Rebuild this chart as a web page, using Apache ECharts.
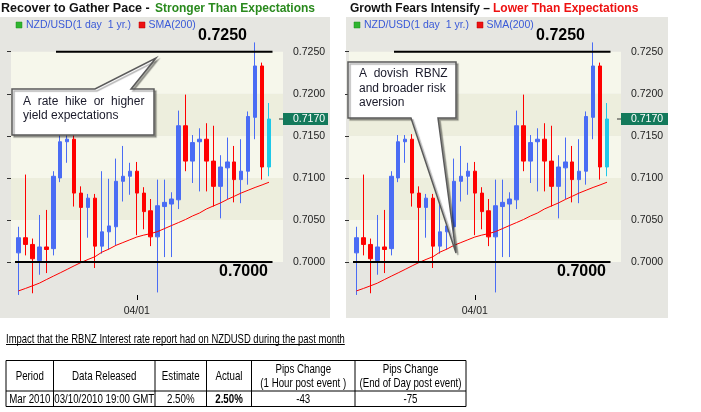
<!DOCTYPE html>
<html><head><meta charset="utf-8">
<script src="https://cdn.jsdelivr.net/npm/echarts@6/dist/echarts.min.js"></script>
<style>html,body{margin:0;padding:0;background:#fff}#c{width:701px;height:412px}</style>
</head><body><div id="c"></div>
<script>
// ---------------- data ----------------
const dates = ['03/09','03/10','03/11','03/12','03/15','03/16','03/17','03/18','03/19','03/22','03/23','03/24','03/25','03/26','03/29','03/30','03/31','04/01','04/02','04/05','04/06','04/07','04/08','04/09','04/12','04/13','04/14','04/15','04/16','04/19','04/20','04/21','04/22','04/23','04/26','04/27','04/28'];
const opens  = [0.7011,0.7029,0.7021,0.7002,0.7018,0.7016,0.7100,0.7143,0.7146,0.7082,0.7065,0.7076,0.7019,0.7036,0.7042,0.7096,0.7102,0.7108,0.7082,0.7061,0.7030,0.7066,0.7069,0.7074,0.7162,0.7120,0.7143,0.7146,0.7120,0.7090,0.7112,0.7119,0.7098,0.7108,0.7172,0.7233,0.7113];
const closes = [0.7029,0.7021,0.7004,0.7018,0.7015,0.7102,0.7143,0.7146,0.7082,0.7065,0.7076,0.7019,0.7036,0.7043,0.7096,0.7102,0.7108,0.7082,0.7060,0.7030,0.7067,0.7071,0.7075,0.7162,0.7120,0.7142,0.7146,0.7120,0.7090,0.7113,0.7119,0.7098,0.7108,0.7173,0.7233,0.7113,0.7170];
const lows   = [0.6961,0.7008,0.6963,0.6985,0.6987,0.7008,0.7095,0.7118,0.7066,0.7000,0.7029,0.6993,0.7010,0.7015,0.7020,0.7072,0.7080,0.7032,0.7039,0.7019,0.6964,0.7006,0.7006,0.7063,0.7108,0.7094,0.7084,0.7084,0.7066,0.7052,0.7075,0.7071,0.7070,0.7092,0.7146,0.7098,0.7102];
const highs  = [0.7042,0.7104,0.7028,0.7056,0.7062,0.7108,0.7151,0.7151,0.7152,0.7090,0.7081,0.7081,0.7108,0.7099,0.7123,0.7138,0.7118,0.7119,0.7089,0.7075,0.7098,0.7098,0.7083,0.7180,0.7199,0.7151,0.7159,0.7165,0.7162,0.7127,0.7148,0.7138,0.7146,0.7179,0.7261,0.7237,0.7189];
const sma200 = [0.69658,0.69687,0.69718,0.69750,0.69792,0.69833,0.69873,0.69914,0.69956,0.69996,0.70032,0.70065,0.70119,0.70155,0.70199,0.70232,0.70265,0.70298,0.70321,0.70339,0.70363,0.70399,0.70435,0.70470,0.70506,0.70548,0.70583,0.70631,0.70667,0.70702,0.70744,0.70782,0.70821,0.70854,0.70887,0.70917,0.70949];
const yTicks = [0.7000,0.7050,0.7100,0.7150,0.7200,0.7250];
const yMin = 0.6955, yMax = 0.7290;
const levelHigh = 0.7250, levelLow = 0.7000;
const lastPrice = 0.7170;
const markedDate = '04/01';
const legendNames = ['NZD/USD(1 day  1 yr.)', 'SMA(200)'];
const titleLeft = ['Recover to Gather Pace -', 'Stronger Than Expectations'];
const titleRight = ['Growth Fears Intensify \u2013', 'Lower Than Expectations'];
const calloutLeft = 'A  rate  hike  or  higher\nyield expectations';
const calloutRight = 'A  dovish  RBNZ\nand broader risk\naversion';
const tableTitle = 'Impact that the RBNZ Interest rate report had on NZDUSD during the past month';
const tableHeader = ['Period','Data Released','Estimate','Actual','Pips Change\n(1 Hour post event )','Pips Change\n(End of Day post event)'];
const tableRow = ['Mar 2010','03/10/2010 19:00 GMT','2.50%','2.50%','-43','-75'];

// ---------------- styles ----------------
const FONT = '"Liberation Sans", Arial, Helvetica, sans-serif';
const BLUE = '#4a6cf4', RED = '#ff0000', CYAN = '#1ec8e8';
const PANEL = '#e6e6e1', BAND1 = '#f6f7eb', BAND2 = '#edeedd';
const OFF = 338; // right panel shift

const chart = echarts.init(document.getElementById('c'), null, {renderer: 'canvas', devicePixelRatio: 1});

const candleData = opens.map((o, i) => {
  const v = [o, closes[i], lows[i], highs[i]];
  return i === opens.length - 1
    ? {value: v, itemStyle: {color: CYAN, color0: CYAN, borderColor: CYAN, borderColor0: CYAN}}
    : v;
});

const grids = [], xAxes = [], yAxes = [], series = [];
[0, 1].forEach(p => {
  const off = p * OFF;
  grids.push({left: 11 + off, top: 18, width: 272, height: 282});
  grids.push({left: 15 + off, top: 18, width: 257.5, height: 282});
  const gBg = p * 2, gData = p * 2 + 1;
  xAxes.push({gridIndex: gBg, type: 'value', show: false, min: 0, max: 1});
  xAxes.push({
    gridIndex: gData, type: 'category', data: dates, boundaryGap: true,
    axisLine: {show: false},
    axisTick: {show: true, inside: true, length: 5, alignWithLabel: true,
      interval: (i, v) => v === markedDate, lineStyle: {color: '#000', width: 1}},
    axisLabel: {interval: (i, v) => v === markedDate, margin: 6, fontSize: 10.5, color: '#222', fontFamily: FONT},
    splitLine: {show: false}
  });
  yAxes.push({
    gridIndex: gBg, type: 'value', position: 'right', min: yMin, max: yMax,
    minInterval: 0.005, maxInterval: 0.005, splitNumber: 7,
    axisLine: {show: false},
    axisTick: {show: true, inside: true, length: 4, customValues: yTicks, lineStyle: {color: '#333'}},
    axisLabel: {customValues: yTicks, margin: 10, color: '#222', fontSize: 10.5, fontFamily: FONT,
      formatter: v => yTicks.some(t => Math.abs(t - v) < 1e-6) ? Number(v).toFixed(4) : ''},
    splitLine: {show: false},
    splitArea: {show: true, areaStyle: {color: [BAND1, BAND2]}}
  });
  yAxes.push({gridIndex: gData, type: 'value', min: yMin, max: yMax, show: false});
  series.push({
    name: legendNames[0], type: 'candlestick', xAxisIndex: gData, yAxisIndex: gData,
    data: candleData, barWidth: 4, z: 3,
    itemStyle: {color: BLUE, color0: RED, borderColor: BLUE, borderColor0: RED, borderWidth: 1}
  });
  series.push({
    name: legendNames[1], type: 'line', xAxisIndex: gData, yAxisIndex: gData,
    data: sma200, symbol: 'none', z: 4, lineStyle: {color: RED, width: 1}
  });
});

chart.setOption({
  animation: false,
  backgroundColor: '#fff',
  grid: grids, xAxis: xAxes, yAxis: yAxes, series: series
});

// ---------------- annotations ----------------
const els = [];
function txt(x, y, text, o) {
  o = o || {};
  const el = {type: 'text', x: x, y: y, z: o.z || 100,
    style: {text: text, fill: o.fill || '#111', fontSize: o.size || 12, fontFamily: FONT,
      fontWeight: o.weight || 'normal', align: o.align || 'left', verticalAlign: o.valign || 'middle',
      textAlign: o.align || 'left', textVerticalAlign: o.valign || 'middle', lineHeight: o.lh}};
  if (o.sx) { el.scaleX = o.sx; }
  els.push(el);
  return el;
}
function measure(text, size, weight) {
  const c = document.createElement('canvas').getContext('2d');
  c.font = (weight || 'normal') + ' ' + size + 'px ' + FONT;
  return c.measureText(text).width;
}

[0, 1].forEach(p => {
  const off = p * OFF;
  const yA = p * 2;
  const yH = chart.convertToPixel({yAxisIndex: yA}, levelHigh);
  const yL = chart.convertToPixel({yAxisIndex: yA}, levelLow);
  const yP = chart.convertToPixel({yAxisIndex: yA}, lastPrice);
  // panel background
  els.push({type: 'rect', z: -10, shape: {x: p ? 346 : 0, y: 17, width: p ? 322 : 330, height: 301}, style: {fill: PANEL}});
  // level lines
  els.push({type: 'line', z: 100, shape: {x1: 56 + off, y1: yH, x2: 272.5 + off, y2: yH}, style: {stroke: '#000', lineWidth: 2}});
  els.push({type: 'line', z: 100, shape: {x1: 15 + off, y1: yL, x2: 272.5 + off, y2: yL}, style: {stroke: '#000', lineWidth: 2}});
  txt(247 + off, yH - 16, levelHigh.toFixed(4), {size: 16, weight: 'bold', align: 'right', fill: '#000'});
  txt(268 + off, yL + 9.5, levelLow.toFixed(4), {size: 16, weight: 'bold', align: 'right', fill: '#000'});
  // last price marker
  els.push({type: 'line', z: 100, shape: {x1: 279 + off, y1: yP, x2: 283 + off, y2: yP}, style: {stroke: '#333', lineWidth: 1}});
  els.push({type: 'rect', z: 100, shape: {x: 283 + off, y: yP - 6, width: p ? 47 : 45, height: 12}, style: {fill: '#13795b'}});
  txt(293 + off, yP, lastPrice.toFixed(4), {size: 10.5, fill: '#fff'});
  // legend
  const lx = p ? 354 : 16;
  els.push({type: 'rect', z: 100, shape: {x: lx, y: 22, width: 6, height: 6}, style: {fill: '#2fb52f', stroke: '#1d8f1d', lineWidth: 0.5}});
  txt(lx + 10, 25, legendNames[0], {size: 10.5, fill: '#3a5ad8'});
  const rx = p ? 477 : 139;
  els.push({type: 'rect', z: 100, shape: {x: rx, y: 22, width: 6, height: 6}, style: {fill: '#ee1111', stroke: '#b00', lineWidth: 0.5}});
  txt(rx + 9.5, 25, legendNames[1], {size: 10.5, fill: '#3a5ad8'});
});

// titles
txt(1, 8.5, titleLeft[0], {size: 12.5, weight: 'bold', fill: '#111'});
txt(155, 8.5, titleLeft[1], {size: 12, weight: 'bold', fill: '#2a8a1e'});
txt(350, 8.5, titleRight[0], {size: 12, weight: 'bold', fill: '#111'});
txt(493, 8.5, titleRight[1], {size: 12, weight: 'bold', fill: '#ee1111'});

// callouts
const calloutStyle = {fill: '#fff', stroke: '#5a5a5a', lineWidth: 1.5, shadowColor: 'rgba(0,0,0,0.3)', shadowOffsetX: 2, shadowOffsetY: 2, shadowBlur: 1};
els.push({type: 'polygon', z: 90, shape: {points: [[12,89],[95,89],[156,58],[131,89],[154,89],[154,135],[12,135]]}, style: calloutStyle});
txt(23, 108.75, calloutLeft, {size: 12, fill: '#1a1a2a', lh: 14.5, z: 95});
els.push({type: 'polygon', z: 90, shape: {points: [[348,62],[456,62],[456,118],[438,118],[456,253],[411,118],[348,118]]}, style: calloutStyle});
txt(359, 88.2, calloutRight, {size: 12, fill: '#1a1a2a', lh: 14.2, z: 95});

// table
const SX = 0.72, TS = 13.5;
const TSX = 0.70;
const ttw = measure(tableTitle, TS) * TSX;
txt(6, 339, tableTitle, {size: TS, fill: '#000', sx: TSX});
els.push({type: 'line', z: 100, shape: {x1: 6, y1: 344.5, x2: 6 + ttw, y2: 344.5}, style: {stroke: '#000', lineWidth: 1}});
const colX = [6, 53.5, 155, 206.5, 251.5, 355, 466];
const rowY = [360.5, 391, 406.5];
els.push({type: 'rect', z: 100, shape: {x: colX[0], y: rowY[0], width: colX[6] - colX[0], height: rowY[2] - rowY[0]}, style: {fill: 'none', stroke: '#000', lineWidth: 1}});
els.push({type: 'line', z: 100, shape: {x1: colX[0], y1: rowY[1], x2: colX[6], y2: rowY[1]}, style: {stroke: '#000', lineWidth: 1}});
for (let i = 1; i < 6; i++) {
  els.push({type: 'line', z: 100, shape: {x1: colX[i], y1: rowY[0], x2: colX[i], y2: rowY[2]}, style: {stroke: '#000', lineWidth: 1}});
}
for (let i = 0; i < 6; i++) {
  const cx = (colX[i] + colX[i + 1]) / 2;
  txt(cx, (rowY[0] + rowY[1]) / 2 + 0.5, tableHeader[i], {size: TS, fill: '#000', align: 'center', sx: SX, lh: 14});
  txt(cx, (rowY[1] + rowY[2]) / 2 + 0.5, tableRow[i], {size: TS, fill: '#000', align: 'center', sx: SX, weight: i === 3 ? 'bold' : 'normal'});
}

chart.setOption({graphic: {elements: els}});
</script></body></html>
